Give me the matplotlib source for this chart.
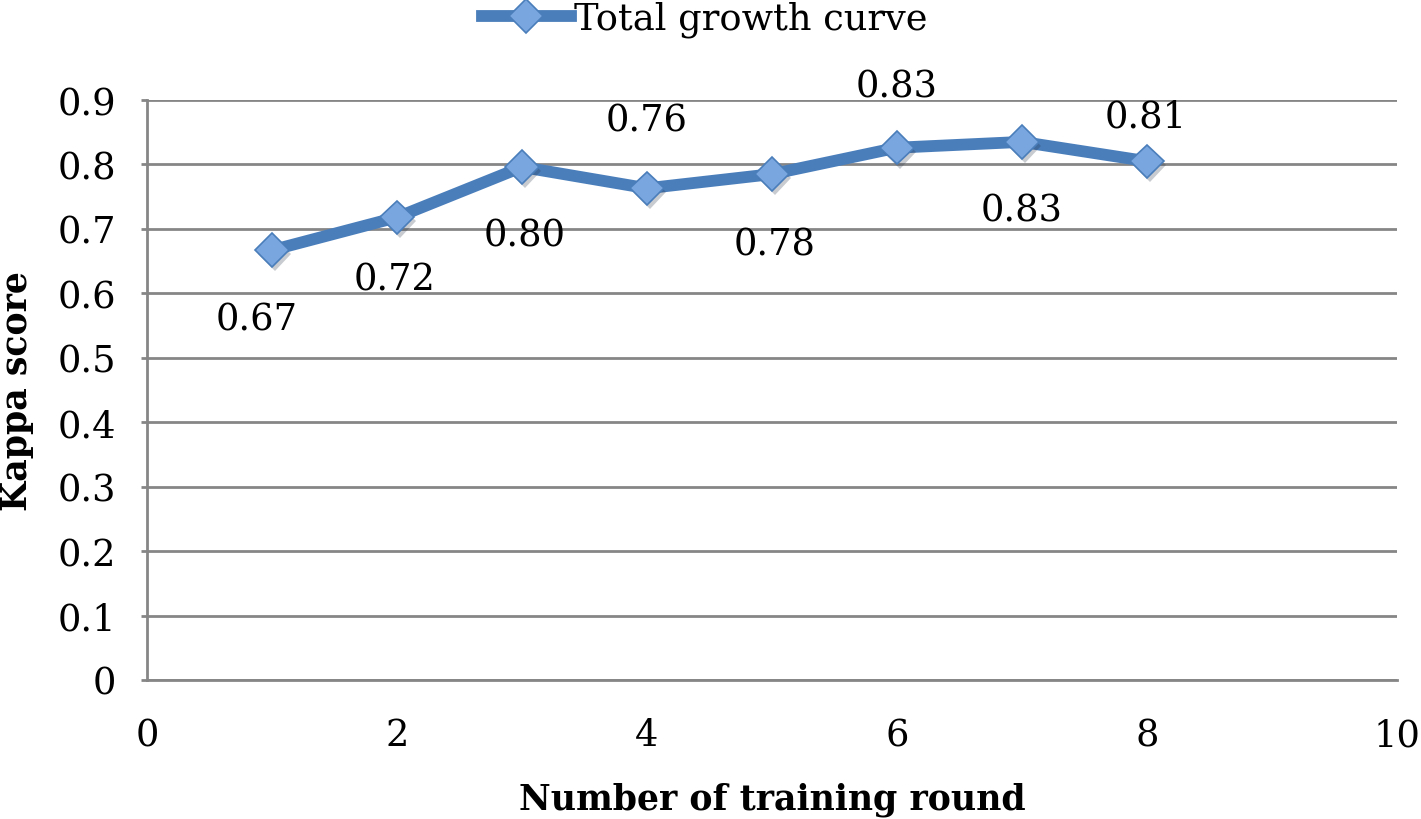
import matplotlib
matplotlib.use("Agg")
import matplotlib.pyplot as plt
import matplotlib.patheffects as pe
from matplotlib.lines import Line2D

rounds = [1, 2, 3, 4, 5, 6, 7, 8]
kappa = [0.667, 0.718, 0.796, 0.763, 0.785, 0.826, 0.835, 0.805]
labels = ["0.67", "0.72", "0.80", "0.76", "0.78", "0.83", "0.83", "0.81"]
label_offsets = [(-15, -69), (-2, -62), (3, -68), (0, 68), (3, -70), (0, 61), (0, -69), (-1, 45)]
x_ticks = [0, 2, 4, 6, 8, 10]
y_ticks = [0, 0.1, 0.2, 0.3, 0.4, 0.5, 0.6, 0.7, 0.8, 0.9]

FS = 26.5
plt.rcParams['font.family'] = ['DejaVu Serif']
fig = plt.figure(figsize=(14.21, 8.2), dpi=100)
ax = fig.add_axes([147/1421, 1-681/820, (1397-147)/1421, (681-101)/820])

ax.set_xlim(0, 10)
ax.set_ylim(0, 0.9)
ax.set_yticks(y_ticks)
ax.set_yticklabels(["0" if v == 0 else f"{v:.1f}" for v in y_ticks])
ax.set_xticks(x_ticks)
ax.grid(axis='y', color='#868686', linewidth=2)
ax.set_axisbelow(True)
for s in ['top', 'right']:
    ax.spines[s].set_visible(False)
for s in ['left', 'bottom']:
    ax.spines[s].set_color('#868686')
    ax.spines[s].set_linewidth(2)
ax.tick_params(axis='y', length=4, width=2, color='#868686', pad=18, labelsize=FS)
ax.tick_params(axis='x', length=0, pad=27, labelsize=FS)

line_color = '#4a7ebb'
face_color = '#7aa6df'
ax.plot(rounds, kappa, color=line_color, linewidth=8.5, zorder=3)
mk = ax.plot(rounds, kappa, linestyle='none', marker='D', markersize=17,
             markerfacecolor=face_color, markeredgecolor=line_color,
             markeredgewidth=1.2, zorder=4)[0]
mk.set_path_effects([pe.SimplePatchShadow(offset=(2, -3), alpha=0.25), pe.Normal()])

for x, y, t, off in zip(rounds, kappa, labels, label_offsets):
    ax.annotate(t, (x, y), xytext=off, textcoords='offset pixels',
                ha='center', va='center', fontsize=FS, zorder=5)

ax.set_xlabel('Number of training round', fontsize=25, fontweight='bold', labelpad=20)
ax.set_ylabel('Kappa score', fontsize=25, fontweight='bold')
ax.yaxis.set_label_coords((34 - 147) / 1250, 0.5)

handle = Line2D([], [], color=line_color, linewidth=8.5, marker='D', markersize=17,
                markerfacecolor=face_color, markeredgecolor=line_color, markeredgewidth=1.2)
fig.legend(handles=[handle], labels=['Total growth curve'], loc='center',
           bbox_to_anchor=(705/1421, 1-20/820), frameon=False, fontsize=FS,
           handlelength=2.4, handletextpad=0.1, borderaxespad=0)

fig.savefig('out.png', dpi=100)
